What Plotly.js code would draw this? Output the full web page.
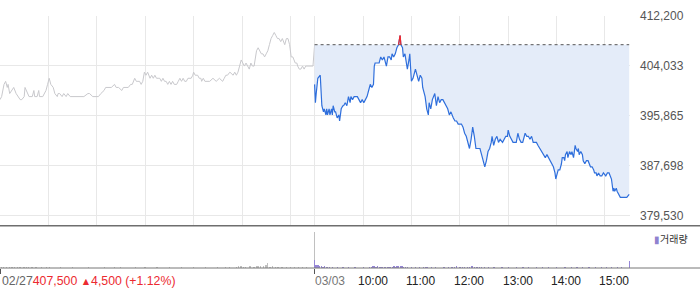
<!DOCTYPE html>
<html><head><meta charset="utf-8">
<script src="https://cdn.plot.ly/plotly-3.0.1.min.js"></script>
<style>html,body{margin:0;padding:0;background:#fff;}#chart{width:700px;height:289px;}</style>
</head><body><div id="chart"></div>
<script>
// minutes since 09:00 open, previous session (02/27)
const prevMinute = [0,2,5,7,9,10,12,15,17,20,
 22,25,27,30,31,33,36,40,42,43,
 46,48,49,53,57,59,61,63,66,68,
 71,72,74,77,79,82,84,87,90,94,
 99,104,109,111,115,119,122,125,129,131,
 134,138,142,144,147,151,153,155,159,162,
 164,167,169,171,173,175,177,179,181,183,
 186,188,190,192,194,196,198,200,202,204,
 206,208,210,212,214,216,219,221,223,225,
 227,229,231,233,235,237,239,240,242,245,
 247,249,250,252,254,257,260,264,268,272,
 276,278,280,282,285,289,291,293,295,297,
 299,301,303,305,307,309,311,313,315,318,
 320,322,324,326,328,330,332,334,336,338,
 340,342,344,346,348,350,353,355,357,359,
 360,361,363,365,366,368,369,371,373,375,
 377,379,383,388,390];
const prevPrice = [398500,399000,401000,401500,400500,401000,399500,400000,400500,399500,
 399000,398500,398500,399000,400500,400000,399000,399000,400000,399000,
 399000,400000,399000,399000,400000,401000,402000,401000,400500,399500,
 399000,399500,399500,399000,399500,399000,399500,399000,399000,399000,
 399000,399000,399500,399500,399000,399000,399000,399500,400000,400500,
 400500,400500,401000,400500,400500,400000,400500,400500,400500,401000,
 401000,402000,401500,401500,401500,401000,401500,403000,402500,403000,
 402000,402500,402000,402500,402000,402000,402000,401500,402000,401500,
 401500,401000,401500,401000,401500,401000,401000,401500,402000,401500,
 402000,401500,401500,402000,402000,402000,402500,403000,402500,402500,
 402000,402000,401500,402000,401500,401500,401500,402000,401500,402000,
 401500,402000,402500,402500,403000,402500,403000,402500,403000,404000,
 405000,404500,404000,404500,404000,403500,404500,404000,404000,406500,
 407000,406500,406000,406000,405500,406000,406500,407500,408500,409000,
 409500,409000,408500,408500,408000,408500,407500,408500,408500,407500,
 406000,405500,405500,405000,404500,404500,404000,403500,403500,404000,
 403500,404000,404000,404000,407500];

// minutes since 09:00 open, current session (03/03)
const todayMinute = [0,1,2,4,7,9,11,12,14,15,
 16,18,19,21,22,23,25,26,28,30,
 31,33,35,36,38,40,42,44,45,47,
 49,51,53,55,57,59,61,63,65,67,
 69,71,73,74,75,78,80,82,84,86,
 88,89,91,93,95,96,98,100,102,104,
 106,107,109,110,112,114,115,117,118,120,
 122,125,127,129,131,133,134,137,139,141,
 142,144,146,148,149,151,153,155,157,159,
 161,163,165,167,169,172,174,176,178,180,
 182,184,186,188,190,192,194,196,198,200,
 203,205,207,209,211,213,215,217,219,220,
 222,224,226,228,230,233,235,237,239,240,
 242,244,246,250,252,254,256,258,261,263,
 265,267,269,271,275,277,279,281,283,286,
 288,290,292,294,296,298,299,300,302,304,
 306,307,309,310,311,313,314,316,318,319,
 321,322,323,324,326,327,328,330,332,333,
 335,337,339,342,344,346,347,349,350,352,
 354,356,358,361,363,365,367,368,370,371,
 372,374,375,377,379,381,385,387,390];
const todayPrice = [401000,398000,399500,402000,402500,397500,396500,397000,396000,397000,
 396000,397000,396000,397000,396000,397500,396500,396500,395500,396000,
 395000,397000,397500,397500,398000,397500,399000,398000,399000,398500,
 399000,399000,399000,398500,398000,398500,398000,398500,399000,400000,
 401000,400500,401000,404000,404500,404500,404500,405500,405000,405500,
 404500,404000,405500,405500,405000,406000,405500,406000,407000,407500,
 409000,407500,407000,405500,406000,404500,403500,405000,406000,401500,
 402000,403500,402500,401500,402500,402000,400500,399000,397000,396000,
 398000,397000,398500,399000,399500,397500,399000,398000,398500,398500,
 398000,397500,397000,396000,396500,395500,395000,395000,394500,394500,
 394500,394000,393000,392500,391500,390500,392000,394000,392500,390500,
 390500,390500,389500,388500,387500,388500,390000,390500,391500,392500,
 391000,392000,392500,391500,392000,391500,392000,392500,392500,393500,
 392500,392000,391500,391500,393000,392000,391500,391500,393000,392500,
 392500,392000,392500,391500,391500,391000,390500,390000,389500,389000,
 389500,389000,388500,388000,387500,386500,385500,386000,387000,387000,
 388000,389000,389000,388500,389500,390000,389000,390000,389500,390000,
 389000,390000,391000,390500,390000,390500,389500,390000,389500,388500,
 388000,388500,388500,387500,387500,387000,386500,386500,386000,386500,
 386000,386000,386500,386000,386500,386500,386000,385500,383500,384000,
 383500,384000,383500,383000,382500,382500,382500,382500,383000];

// volume (relative units)
const prevVolMinute = [0,2,5,8,12,15,18,22,25,30,
 33,36,40,45,52,58,62,75,90,110,
 130,142,150,168,180,195,210,225,240,255,
 270,280,285,293,296,299,302,305,310,315,
 318,320,323,327,330,332,335,338,342,345,
 350,355,360,365,370,375,380,390];
const prevVolume = [110,40,35,30,35,30,35,30,30,35,
 30,40,30,30,30,35,30,30,30,30,
 35,30,40,30,30,30,30,30,30,30,
 30,30,40,40,60,50,40,40,50,40,
 50,45,50,50,80,130,40,50,40,40,
 35,35,30,30,30,30,30,1000];
const todayVolMinute = [0,1,2,3,4,5,6,8,10,12,
 15,18,22,28,35,42,50,60,68,70,
 72,74,76,78,80,82,84,86,88,90,
 92,94,96,98,100,102,104,106,108,110,
 112,115,120,125,130,135,138,140,145,150,
 160,166,170,173,176,180,183,186,189,192,
 195,198,201,204,207,210,215,222,232,240,
 250,258,265,275,282,290,300,310,318,325,
 332,340,348,355,362,368,375,380,390];
const todayVolume = [230,90,70,60,80,60,50,50,40,45,
 40,35,30,30,30,30,30,30,35,40,
 50,45,40,45,40,35,40,35,40,35,
 40,35,40,45,40,50,45,60,45,40,
 35,30,30,30,30,35,40,35,30,30,
 30,30,35,40,45,40,35,40,35,40,
 45,40,35,40,35,30,30,30,30,30,
 30,30,30,30,35,30,35,30,30,30,
 30,30,30,30,35,35,30,30,200];

const prevClose = 407500;
const prevCloseText = "407,500";
const changeText = "4,500 (+1.12%)";
const priceTicks = [379530, 387698, 395865, 404033, 412200];
const hourLabels = ["10:00","11:00","12:00","13:00","14:00","15:00"];
const dayLabels = ["02/27","03/03"];
const volumeLabel = "거래량";
const DAY = 390; // minutes per session

const xPrev = prevMinute.slice();
const xToday = todayMinute.map(m => m + DAY);
const hourMin = hourLabels.map(h => (parseInt(h, 10) - 9) * 60);
const gridVals = [0].concat(hourMin, [DAY], hourMin.map(m => m + DAY));

// red segments where price is above the previous close
const rx = [], ry = [];
for (let i = 0; i < xToday.length - 1; i++) {
  const x0 = xToday[i], y0 = todayPrice[i], x1 = xToday[i+1], y1 = todayPrice[i+1];
  if (y0 <= prevClose && y1 <= prevClose) continue;
  const cross = () => x0 + (prevClose - y0) * (x1 - x0) / (y1 - y0);
  const sx = y0 >= prevClose ? x0 : cross(), sy = y0 >= prevClose ? y0 : prevClose;
  const ex = y1 >= prevClose ? x1 : cross(), ey = y1 >= prevClose ? y1 : prevClose;
  rx.push(sx, ex, null); ry.push(sy, ey, null);
}

const xStart = xToday[0], xEnd = xToday[xToday.length - 1];
const font = "Liberation Sans, Arial, sans-serif";

const traces = [
  {x: xPrev, y: prevPrice, type: 'scatter', mode: 'lines', line: {color: '#c8c8cc', width: 1}, hoverinfo: 'skip'},
  {x: [xStart, xEnd], y: [prevClose, prevClose], type: 'scatter', mode: 'lines', line: {width: 0, color: 'rgba(0,0,0,0)'}, hoverinfo: 'skip'},
  {x: xToday, y: todayPrice, type: 'scatter', mode: 'lines', fill: 'tonexty', fillcolor: '#e4ecf9', line: {color: '#2f6fdc', width: 1.2}, hoverinfo: 'skip'},
  {x: [xStart, xEnd], y: [prevClose, prevClose], type: 'scatter', mode: 'lines', line: {color: '#555', width: 1, dash: 'dot'}, hoverinfo: 'skip'},
  {x: rx, y: ry, type: 'scatter', mode: 'lines', line: {color: '#f0282d', width: 1.2}, connectgaps: false, hoverinfo: 'skip'},
  {x: prevVolMinute, y: prevVolume, type: 'bar', xaxis: 'x2', yaxis: 'y2', width: 1.6, marker: {color: '#c0c0c0', line: {width: 0}}, hoverinfo: 'skip'},
  {x: todayVolMinute.map(m => m + DAY), y: todayVolume, type: 'bar', xaxis: 'x2', yaxis: 'y2', width: 1.6, marker: {color: '#9586d6', line: {width: 0}}, hoverinfo: 'skip'}
];

const H = 252; // plot height in px
const pyPaper = px => (268 - px) / H;
const W = 630;

const layout = {
  width: 700, height: 289,
  margin: {l: 0, r: 70, t: 16, b: 21},
  paper_bgcolor: '#fff', plot_bgcolor: '#fff',
  showlegend: false,
  font: {family: font, size: 12, color: '#555'},
  xaxis: {domain: [0, 1], range: [0, 781], tickvals: gridVals, showticklabels: false, ticks: '',
          showgrid: true, gridcolor: '#e8e8e8', gridwidth: 1, zeroline: false, showline: false, anchor: 'y', fixedrange: true},
  yaxis: {domain: [pyPaper(225.5), 1], range: [377889, 412200], side: 'right', tickvals: priceTicks, tickformat: ',d',
          ticks: '', ticklabelstandoff: 9, tickfont: {family: font, size: 12, color: '#555'},
          showgrid: true, gridcolor: '#e8e8e8', zeroline: false, showline: false, fixedrange: true},
  xaxis2: {domain: [0, 1], range: [0, 781], anchor: 'y2', matches: 'x', tickvals: [0, DAY], ticks: 'outside', ticklen: 5,
           tickcolor: '#555', showticklabels: false, showgrid: false, zeroline: false, showline: false},
  yaxis2: {domain: [0, pyPaper(232)], range: [0, 1000], visible: false, fixedrange: true},
  bargap: 0,
  shapes: [
    {type: 'line', xref: 'paper', yref: 'paper', x0: 0, x1: 700 / W, y0: pyPaper(225.7), y1: pyPaper(225.7), line: {color: '#6e6e6e', width: 1.5}},
    {type: 'line', xref: 'paper', yref: 'paper', x0: 0, x1: 700 / W, y0: 0, y1: 0, line: {color: '#777', width: 1}}
  ],
  annotations: [
    {xref: 'paper', yref: 'paper', x: 0, y: pyPaper(281), xanchor: 'left', yanchor: 'middle', showarrow: false,
     text: `<span style="color:#666">${dayLabels[0]}</span><span style="color:#ec2a30">${prevCloseText} <span style="font-size:10.5px">▲</span>${changeText}</span>`,
     font: {family: font, size: 12.3}},
    {xref: 'x2', yref: 'paper', x: DAY, y: pyPaper(281), xanchor: 'left', yanchor: 'middle', showarrow: false, xshift: -2,
     text: dayLabels[1], font: {family: font, size: 12, color: '#777'}}
  ].concat(hourLabels.map((h, i) => ({
     xref: 'x2', yref: 'paper', x: hourMin[i] + DAY, y: pyPaper(281), xanchor: 'center', yanchor: 'middle', showarrow: false, xshift: 9.5,
     text: h, font: {family: font, size: 12, color: '#222'}
  }))).concat([
    {xref: 'paper', yref: 'paper', x: 652 / W, y: pyPaper(238.5), xanchor: 'left', yanchor: 'middle', showarrow: false,
     text: `<span style="color:#8f82cf">▮</span>${volumeLabel}`, font: {family: 'Noto Sans CJK KR, sans-serif', size: 10, color: '#333'}}
  ])
};

Plotly.newPlot('chart', traces, layout, {displayModeBar: false, staticPlot: true});
</script></body></html>
